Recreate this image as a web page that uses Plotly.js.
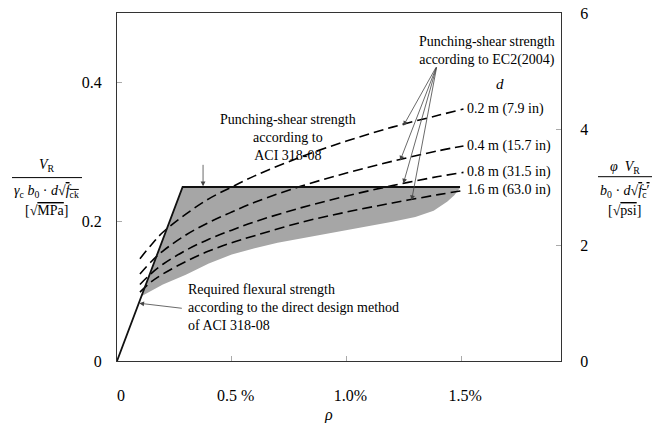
<!DOCTYPE html>
<html>
<head>
<meta charset="utf-8">
<script src="https://cdn.plot.ly/plotly-3.0.1.min.js"></script>
<style>html,body{margin:0;padding:0;background:#fff;}#chart{width:663px;height:423px;}</style>
</head>
<body>
<div id="chart"></div>
<script>
// ---- data ----
// reinforcement ratio rho in %
var flexX = [0, 0.286, 1.495];
var flexY = [0, 0.25, 0.25];

// shaded region: upper edge (flexural line + ACI limit), lower edge (curve)
var regionUpperX = [0.106, 0.286, 1.495];
var regionUpperY = [0.093, 0.25, 0.25];
var regionLowerX = [0.106, 0.2, 0.3, 0.4, 0.5, 0.6, 0.7, 0.8, 1.0, 1.2, 1.3, 1.38, 1.44, 1.47, 1.495];
var regionLowerY = [0.093, 0.110, 0.124, 0.140, 0.153, 0.162, 0.170, 0.176, 0.188, 0.200, 0.207, 0.216, 0.229, 0.238, 0.249];

// EC2 curves for each d
var ecX = [0.1, 0.15, 0.2, 0.3, 0.4, 0.5, 0.6, 0.8, 1.0, 1.2, 1.4, 1.51];
var ecD02 = [0.147, 0.167, 0.185, 0.211, 0.233, 0.250, 0.266, 0.293, 0.316, 0.336, 0.353, 0.362];
var ecD04 = [0.125, 0.143, 0.158, 0.181, 0.199, 0.214, 0.228, 0.251, 0.270, 0.287, 0.302, 0.309];
var ecD08 = [0.110, 0.126, 0.139, 0.159, 0.175, 0.188, 0.200, 0.220, 0.237, 0.252, 0.265, 0.271];
var ecD16 = [0.099, 0.114, 0.125, 0.143, 0.158, 0.170, 0.180, 0.199, 0.214, 0.227, 0.239, 0.245];
var curveLabels = ["0.2 m (7.9 in)", "0.4 m (15.7 in)", "0.8 m (31.5 in)", "1.6 m (63.0 in)"];

// axes
var xTickVals = [0, 0.5, 1.0, 1.5];
var xTickText = ["0", "0.5 %", "1.0%", "1.5%"];
var yTickVals = [0, 0.2, 0.4];
var yTickText = ["0", "0.2", "0.4"];
var y2TickVals = [0, 2, 4, 6];
var y2TickText = ["0", "2", "4", "6"];

// arrow endpoints (data coords): [tipX, tipY, tailX, tailY]
var aciArrow = [0.375, 0.251, 0.375, 0.284];
var ec2ArrowTail = [1.394, 0.424];
var ec2ArrowTipX = [1.248, 1.234, 1.248, 1.284];
var ec2ArrowTipY = [0.338, 0.288, 0.255, 0.231];
var flexArrow = [0.097, 0.083, 0.289, 0.0755];

// ---- build ----
var FONT = "'Liberation Serif', 'Times New Roman', Times, serif";
var polyX = regionUpperX.concat(regionLowerX.slice().reverse());
var polyY = regionUpperY.concat(regionLowerY.slice().reverse());

var traces = [];
traces.push({
  x: polyX, y: polyY, mode: "lines", fill: "toself",
  fillcolor: "#a6a6a6",
  line: {width: 0, color: "rgba(0,0,0,0)"}, hoverinfo: "skip", showlegend: false
});
[ecD02, ecD04, ecD08, ecD16].forEach(function (ys) {
  traces.push({
    x: ecX, y: ys, mode: "lines",
    line: {color: "#000", width: 1.6, dash: "10px,5px", shape: "spline"},
    showlegend: false, hoverinfo: "skip"
  });
});
traces.push({
  x: flexX, y: flexY, mode: "lines",
  line: {color: "#111", width: 1.8}, showlegend: false, hoverinfo: "skip"
});
// dummy trace for right axis
traces.push({x: [0], y: [0], yaxis: "y2", mode: "markers", marker: {opacity: 0}, showlegend: false, hoverinfo: "skip"});

var TF = {family: FONT, size: 14, color: "#000"};
var ann = [];
var ends = [ecD02, ecD04, ecD08, ecD16];
curveLabels.forEach(function (t, i) {
  ann.push({x: 1.515, y: ends[i][ends[i].length - 1], xref: "x", yref: "y", text: t,
    showarrow: false, xanchor: "left", yanchor: "middle", font: TF});
});
ann.push({x: 1.667, y: 0.398, xref: "x", yref: "y", text: "<i>d</i>", showarrow: false,
  xanchor: "center", yanchor: "middle", font: {family: FONT, size: 15, color: "#000"}});
ann.push({x: 1.611, y: 0.4456, xref: "x", yref: "y", text: "Punching-shear strength<br>according to EC2(2004)",
  showarrow: false, xanchor: "center", yanchor: "middle", font: TF});
ann.push({x: 0.746, y: 0.321, xref: "x", yref: "y", text: "Punching-shear strength<br>according to<br>ACI 318-08",
  showarrow: false, xanchor: "center", yanchor: "middle", font: TF});
ann.push({x: 0.30, y: 0.0764, xref: "x", yref: "y", align: "left",
  text: "Required flexural strength<br>according to the direct design method<br>of ACI 318-08",
  showarrow: false, xanchor: "left", yanchor: "middle", font: TF});

function arrow(tx, ty, ax, ay) {
  return {x: tx, y: ty, ax: ax, ay: ay, xref: "x", yref: "y", axref: "x", ayref: "y",
    text: "", showarrow: true, arrowhead: 2, arrowsize: 1.2, arrowwidth: 0.8, arrowcolor: "#444", standoff: 0};
}
ann.push(arrow(aciArrow[0], aciArrow[1], aciArrow[2], aciArrow[3]));
ec2ArrowTipX.forEach(function (tx, i) {
  ann.push(arrow(tx, ec2ArrowTipY[i], ec2ArrowTail[0], ec2ArrowTail[1]));
});
ann.push(arrow(flexArrow[0], flexArrow[1], flexArrow[2], flexArrow[3]));

// axis titles (fractions)
var ov = function (s) { return "<span style='text-decoration:overline'>" + s + "</span>"; };
function ptitle(x, y, text) {
  return {xref: "paper", yref: "paper", x: x, y: y, text: text, showarrow: false,
    xanchor: "center", yanchor: "middle", font: TF};
}
ann.push(ptitle(-0.158, 0.563, "<i>V</i><sub>R</sub>"));
ann.push(ptitle(-0.158, 0.4865, "<i>γ</i><sub>c</sub> <i>b</i><sub>0</sub> · <i>d</i>√" + ov("<i>f</i><sub>ck</sub>")));
ann.push(ptitle(-0.158, 0.432, "[√" + ov("MPa") + "]"));
ann.push(ptitle(1.144, 0.5546, "<i>φ</i>\u00a0\u00a0<i>V</i><sub>R</sub>"));
ann.push(ptitle(1.144, 0.4865, "<i>b</i><sub>0</sub> · <i>d</i>√" + ov("<i>f</i><sub>c</sub>′")));
ann.push(ptitle(1.144, 0.432, "[√" + ov("psi") + "]"));
ann.push({xref: "paper", yref: "paper", x: (328 - 117) / 444, y: (361 - 415) / 348, text: "<i>ρ</i>", showarrow: false,
  xanchor: "center", yanchor: "middle", font: {family: FONT, size: 16, color: "#000"}});

var shapes = [
  {type: "line", xref: "paper", yref: "paper", x0: (12 - 117) / 444, x1: (82 - 117) / 444, y0: 0.527, y1: 0.527,
    line: {color: "#000", width: 1}},
  {type: "line", xref: "paper", yref: "paper", x0: (598 - 117) / 444, x1: (652 - 117) / 444, y0: 0.5296, y1: 0.5296,
    line: {color: "#000", width: 1}}
];

var axisCommon = {showgrid: false, zeroline: false, showline: true, linecolor: "#333", linewidth: 1,
  ticks: "inside", ticklen: 5, tickcolor: "#aaa", tickwidth: 1,
  tickfont: {family: FONT, size: 16, color: "#000"}, fixedrange: true};

var layout = {
  width: 663, height: 423,
  margin: {l: 117, r: 102, t: 13, b: 62, pad: 0},
  paper_bgcolor: "#fff", plot_bgcolor: "#fff",
  font: {family: FONT, color: "#000"},
  showlegend: false,
  xaxis: Object.assign({}, axisCommon, {range: [0, 1.935], tickmode: "array", tickvals: xTickVals, ticktext: xTickText,
    mirror: true, ticklabelstandoff: 20, ticklabelshift: 4}),
  yaxis: Object.assign({}, axisCommon, {range: [0, 0.5], tickmode: "array", tickvals: yTickVals, ticktext: yTickText,
    ticklabelstandoff: 11}),
  yaxis2: Object.assign({}, axisCommon, {range: [0, 6], overlaying: "y", side: "right", tickmode: "array",
    tickvals: y2TickVals, ticktext: y2TickText, ticklabelstandoff: 15}),
  annotations: ann,
  shapes: shapes
};

Plotly.newPlot("chart", traces, layout, {displayModeBar: false, staticPlot: true});
</script>
</body>
</html>
